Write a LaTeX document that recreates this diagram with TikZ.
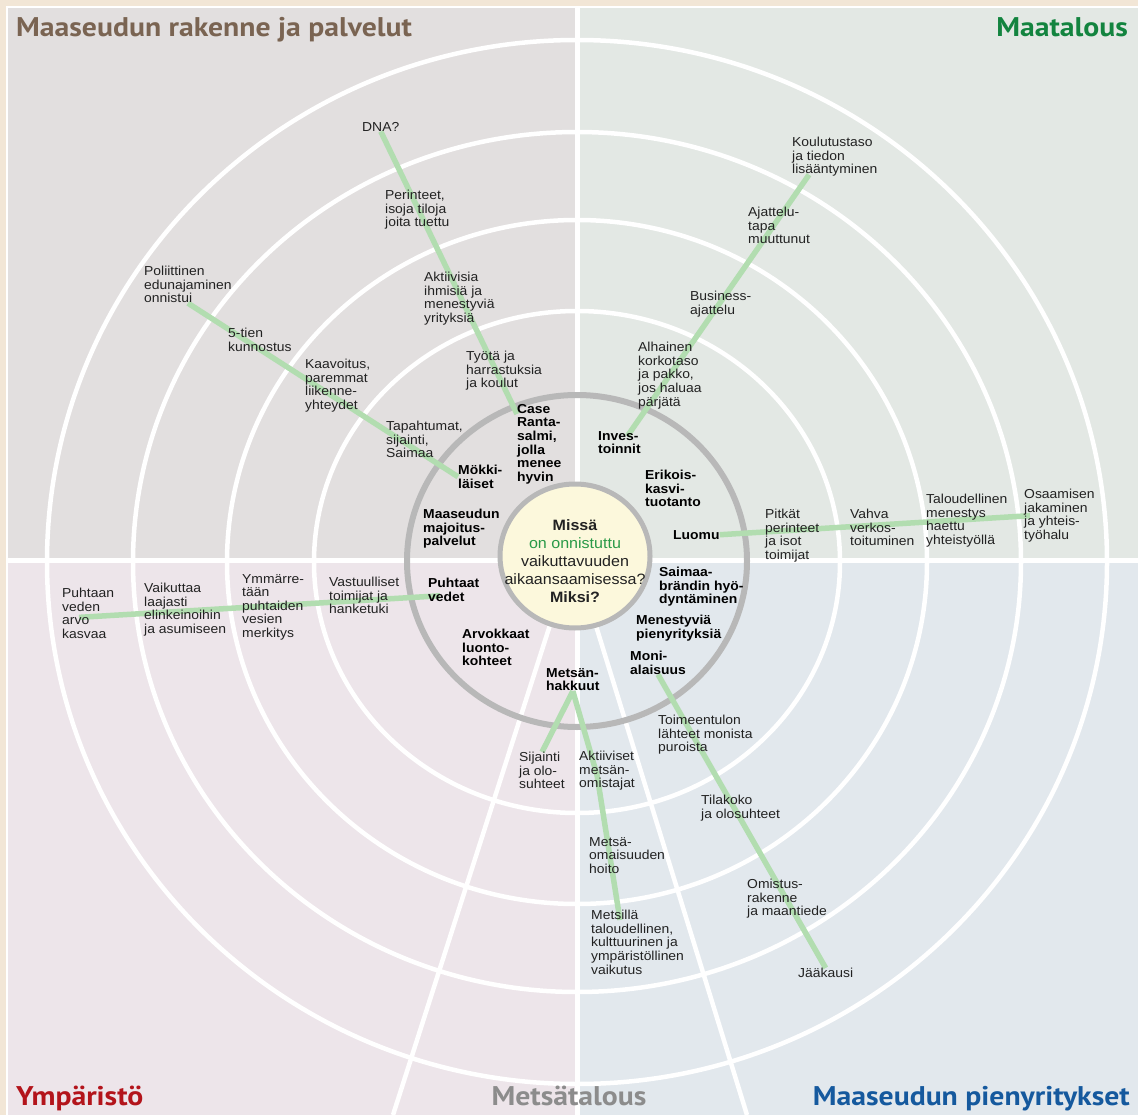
\documentclass[tikz,border=0pt]{standalone}
\usepackage{fontspec}
\setmainfont{Liberation Sans}[FakeStretch=1.07]
\newfontfamily\headfont{PT Sans}[FakeStretch=1.1]
\usetikzlibrary{calc}

\definecolor{paper}{HTML}{F2E6D6}
\definecolor{tlgrey}{HTML}{E2DFDF}
\definecolor{trgreen}{HTML}{E3E8E4}
\definecolor{blpink}{HTML}{EDE5EA}
\definecolor{brblue}{HTML}{E2E8ED}
\definecolor{ringgrey}{HTML}{B8B8B8}
\definecolor{coreyellow}{HTML}{FCF8DC}
\definecolor{linkgreen}{HTML}{B2DDB0}
\definecolor{textgrey}{HTML}{222222}
\definecolor{coregreen}{HTML}{2A9A48}
\definecolor{brownhead}{HTML}{7A6452}
\definecolor{greenhead}{HTML}{13843F}
\definecolor{redhead}{HTML}{B3141B}
\definecolor{greyhead}{HTML}{8C8C8C}
\definecolor{bluehead}{HTML}{15599E}

\pgfdeclarelayer{bg}
\pgfdeclarelayer{links}
\pgfsetlayers{bg,links,main}

\tikzset{
  lbl/.style={anchor=north west, inner sep=0pt, align=left, text=textgrey,
    font=\fontsize{13}{13.6}\selectfont},
  blbl/.style={lbl, text=black, font=\fontsize{13}{13.6}\selectfont\bfseries},
  link/.style={line width=5.5pt, linkgreen},
  ring/.style={white, line width=4.5pt},
  head/.style={inner sep=0pt, font=\headfont\fontsize{27}{27}\selectfont\bfseries},
  core/.style={inner sep=0pt, align=center, text=textgrey,
    font=\fontsize{15}{18}\selectfont},
}

\begin{document}
\begin{tikzpicture}[x=1pt,y=-1pt]
\useasboundingbox (0,0) rectangle (1138,1115);

\begin{pgfonlayer}{bg}
% quarters
\fill[paper] (0,0) rectangle (1138,1115);
\fill[tlgrey] (7,7) rectangle (577,560);
\fill[trgreen] (577,7) rectangle (1138,560);
\fill[blpink] (7,560) rectangle (577,1115);
\fill[brblue] (577,560) rectangle (1138,1115);
\draw[white, line width=1.5pt] (7,1115) -- (7,7) -- (1138,7);
\begin{scope}
  \clip (7,7) rectangle (1138,1115);
  \draw[white, line width=5pt] (577,7) -- (577,1115);
  \draw[white, line width=5pt] (7,560) -- (1138,560);
  \draw[ring] (558,600) -- (393,1115);
  \draw[ring] (588,600) -- (747,1115);
  \foreach \rx/\ry in {263/251, 350/342, 444/430, 530/522}
    \draw[ring] (577,562) ellipse [x radius=\rx, y radius=\ry];
\end{scope}
\draw[ringgrey, line width=6pt] (577,561) ellipse [x radius=170, y radius=166];
\draw[ringgrey, fill=coreyellow, line width=5pt] (575,556) ellipse [x radius=75, y radius=72];
\end{pgfonlayer}

% headings
\node[head, text=brownhead, anchor=base west] (hrakenne) at (16,37) {Maaseudun rakenne ja palvelut};
\node[head, text=greenhead, anchor=base east] (hmaatalous) at (1128,37) {Maatalous};
\node[head, text=redhead, anchor=base west] (hymparisto) at (16,1105) {Ympäristö};
\node[head, text=greyhead, anchor=base] (hmetsa) at (569,1105) {Metsätalous};
\node[head, text=bluehead, anchor=base east] (hpieny) at (1130,1105) {Maaseudun pienyritykset};

\node[core] (kysymys) at (575,561) {\textbf{Missä}\\\textcolor{coregreen}{on onnistuttu}\\vaikuttavuuden\\aikaansaamisessa?\\\textbf{Miksi?}};

% rakenne ja palvelut
\node[lbl] (dna) at (362,122) {DNA?};
\node[lbl] (perinteet) at (385,190) {Perinteet,\\isoja tiloja\\joita tuettu};
\node[lbl] (aktiivisia) at (424,272) {Aktiivisia\\ihmisiä ja\\menestyviä\\yrityksiä};
\node[lbl] (tyota) at (466,351) {Työtä ja\\harrastuksia\\ja koulut};
\node[blbl] (case) at (517,404) {Case\\Ranta-\\salmi,\\jolla\\menee\\hyvin};
\node[lbl] (poliit) at (144,266) {Poliittinen\\edunajaminen\\onnistui};
\node[lbl] (viitostie) at (228,328) {5-tien\\kunnostus};
\node[lbl] (kaavoitus) at (305,359) {Kaavoitus,\\paremmat\\liikenne-\\yhteydet};
\node[lbl] (tapahtumat) at (386,421) {Tapahtumat,\\sijainti,\\Saimaa};
\node[blbl] (mokki) at (458,465) {Mökki-\\läiset};
\node[blbl] (majoitus) at (423,509) {Maaseudun\\majoitus-\\palvelut};

% maatalous
\node[blbl] (invest) at (598,431) {Inves-\\toinnit};
\node[lbl] (alhainen) at (638,342) {Alhainen\\korkotaso\\ja pakko,\\jos haluaa\\pärjätä};
\node[lbl] (business) at (690,291) {Business-\\ajattelu};
\node[lbl] (ajattelu) at (748,207) {Ajattelu-\\tapa\\muuttunut};
\node[lbl] (koulutus) at (792,137) {Koulutustaso\\ja tiedon\\lisääntyminen};
\node[blbl] (erikois) at (645,470) {Erikois-\\kasvi-\\tuotanto};
\node[blbl] (luomu) at (673,530) {Luomu};
\node[lbl] (pitkat) at (765,509) {Pitkät\\perinteet\\ja isot\\toimijat};
\node[lbl] (vahva) at (850,509) {Vahva\\verkos-\\toituminen};
\node[lbl] (talous) at (926,494) {Taloudellinen\\menestys\\haettu\\yhteistyöllä};
\node[lbl] (osaaminen) at (1024,489) {Osaamisen\\jakaminen\\ja yhteis-\\työhalu};

% pienyritykset
\node[blbl] (saimaa) at (659,567) {Saimaa-\\brändin hyö-\\dyntäminen};
\node[blbl] (menestyvia) at (636,615) {Menestyviä\\pienyrityksiä};
\node[blbl] (moni) at (630,651) {Moni-\\alaisuus};
\node[lbl] (toimeentulo) at (658,715) {Toimeentulon\\lähteet monista\\puroista};
\node[lbl] (tilakoko) at (701,795) {Tilakoko\\ja olosuhteet};
\node[lbl] (omistus) at (747,879) {Omistus-\\rakenne\\ja maantiede};
\node[lbl] (jaakausi) at (798,968) {Jääkausi};

% metsätalous
\node[blbl] (hakkuut) at (546,668) {Metsän-\\hakkuut};
\node[lbl] (sijainti) at (519,752) {Sijainti\\ja olo-\\suhteet};
\node[lbl] (aktiiviset) at (579,751) {Aktiiviset\\metsän-\\omistajat};
\node[lbl] (hoito) at (589,837) {Metsä-\\omaisuuden\\hoito};
\node[lbl] (metsilla) at (591,910) {Metsillä\\taloudellinen,\\kulttuurinen ja\\ympäristöllinen\\vaikutus};

% ympäristö
\node[blbl] (puhtaat) at (428,578) {Puhtaat\\vedet};
\node[blbl] (arvokkaat) at (462,629) {Arvokkaat\\luonto-\\kohteet};
\node[lbl] (vastuu) at (329,577) {Vastuulliset\\toimijat ja\\hanketuki};
\node[lbl] (ymmarretaan) at (242,574) {Ymmärre-\\tään\\puhtaiden\\vesien\\merkitys};
\node[lbl] (vaikuttaa) at (144,583) {Vaikuttaa\\laajasti\\elinkeinoihin\\ja asumiseen};
\node[lbl] (puhtaan) at (62,588) {Puhtaan\\veden\\arvo\\kasvaa};

\begin{pgfonlayer}{links}
\draw[link] (dna.south) -- ($(case.north west)+(0,10)$);
\draw[link] (poliit.south) -- (mokki.west);
\draw[link] ($(invest.north)+(8,5)$) -- ($(koulutus.south west)+(17,-2)$);
\draw[link] (luomu.east) -- ($(osaaminen.west)+(6,0)$);
\draw[link] ($(puhtaat.west)+(12,6)$) -- ($(puhtaan.west)+(17,4)$);
\draw[link] (hakkuut.south) -- (sijainti.north);
\draw[link] (hakkuut.south) -- ($(aktiiviset.north west)+(18,24)$) -- ($(metsilla.north west)+(29,10)$);
\draw[link] (moni.south) -- (jaakausi.north);
\end{pgfonlayer}
\end{tikzpicture}
\end{document}
